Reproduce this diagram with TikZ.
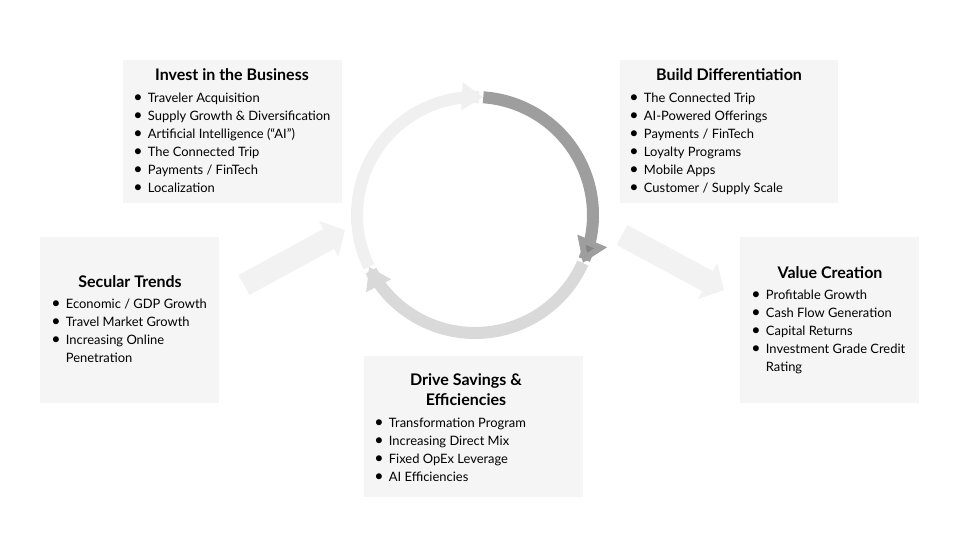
\documentclass[tikz,border=0pt]{standalone}
\usepackage{fontspec}
\setmainfont{Lato}
\usetikzlibrary{arrows.meta}

\tikzset{
  panel/.style={fill=black!4, draw=none},
  title/.style={font=\fontsize{12}{15}\selectfont\bfseries, align=center},
  items/.style={font=\fontsize{9.7}{13.5}\selectfont, anchor=north west, align=left, inner sep=0pt},
  ring/.style={line width=9pt},
  fat arrow/.style={line width=17pt, draw=black!5, -{Triangle[length=14pt,width=30pt]}}
}
\newcommand{\itm}[1]{\makebox[11pt][l]{\large\textbullet}#1\\}

\begin{document}
\begin{tikzpicture}[x=0.75pt,y=-0.75pt]
  \useasboundingbox (0,0) rectangle (960,540);
  % panels
  \fill[panel] (123,60) rectangle (342,203);
  \fill[panel] (620,60) rectangle (838,203);
  \fill[panel] (40,237) rectangle (219,403);
  \fill[panel] (740,237) rectangle (919,403);
  \fill[panel] (364,356) rectangle (583,497);
  % flow arrows
  \coordinate (inS) at (244,285);
  \coordinate (inE) at (345,230);
  \coordinate (outS) at (622,235);
  \coordinate (outE) at (724,290);
  \draw[fat arrow] (inS) -- (inE);
  \draw[fat arrow] (outS) -- (outE);
  % cycle
  \draw[ring, draw=black!15, -{Triangle[length=16pt,width=20pt]}]
    plot[domain=-24:-154,samples=60] ({475+118*cos(\x)},{215-118*sin(\x)});
  \draw[ring, draw=black!6, -{Triangle[length=16pt,width=20pt]}]
    plot[domain=206:86,samples=60] ({475+118*cos(\x)},{215-118*sin(\x)});
  \draw[ring, draw=black!38, -{Triangle[length=18pt,width=23pt,fill=black!48]}]
    plot[domain=86:-24,samples=60] ({475+118*cos(\x)},{215-118*sin(\x)});
  % texts
  \node[title] (investT) at (232,75) {Invest in the Business};
  \node[items] (investL) at (133,93) {\itm{Traveler Acquisition}\itm{Supply Growth \& Diversification}\itm{Artificial Intelligence (“AI”)}\itm{The Connected Trip}\itm{Payments / FinTech}\itm{Localization}};
  \node[title] (buildT) at (729,75) {Build Differentiation};
  \node[items] (buildL) at (629,93) {\itm{The Connected Trip}\itm{AI-Powered Offerings}\itm{Payments / FinTech}\itm{Loyalty Programs}\itm{Mobile Apps}\itm{Customer / Supply Scale}};
  \node[title] (secularT) at (130,282) {Secular Trends};
  \node[items] (secularL) at (51,299) {\itm{Economic / GDP Growth}\itm{Travel Market Growth}\itm{Increasing Online}\makebox[11pt]{}Penetration};
  \node[title] (valueT) at (830,273) {Value Creation};
  \node[items] (valueL) at (751,290) {\itm{Profitable Growth}\itm{Cash Flow Generation}\itm{Capital Returns}\itm{Investment Grade Credit}\makebox[11pt]{}Rating};
  \node[title] (driveT) at (466,390) {Drive Savings \&\\Efficiencies};
  \node[items] (driveL) at (374,418) {\itm{Transformation Program}\itm{Increasing Direct Mix}\itm{Fixed OpEx Leverage}\itm{AI Efficiencies}};
\end{tikzpicture}
\end{document}
